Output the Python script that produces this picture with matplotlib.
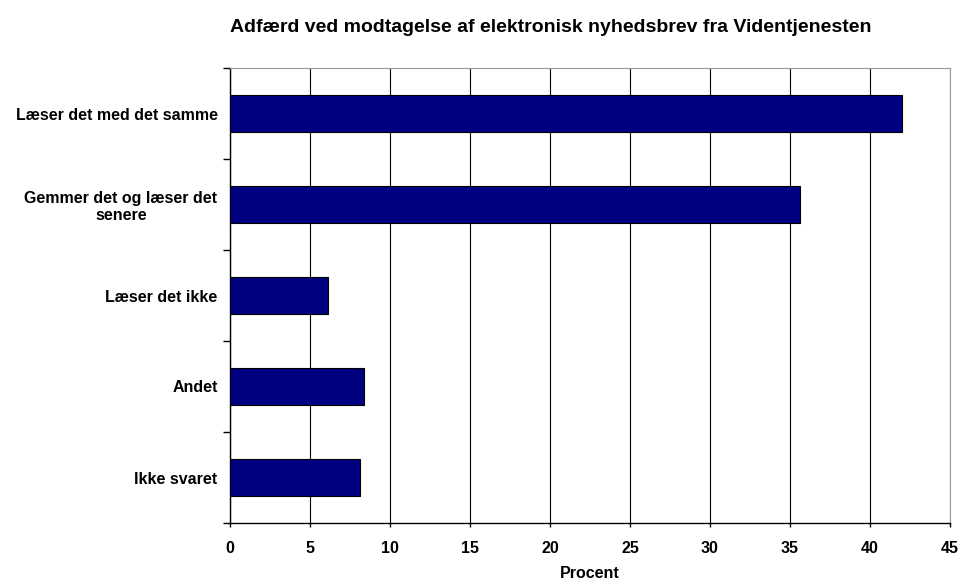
import matplotlib.pyplot as plt

# Data
kategorier = ['Læser det med det samme', 'Gemmer det og læser det\nsenere',
              'Læser det ikke', 'Andet', 'Ikke svaret']
procent = [42.0, 35.6, 6.1, 8.4, 8.1]
x_ticks = [0, 5, 10, 15, 20, 25, 30, 35, 40, 45]

plt.rcParams['font.family'] = ['Liberation Sans', 'DejaVu Sans']

fig = plt.figure(figsize=(9.6, 5.81), dpi=100)
ax = fig.add_axes([230 / 960, 1 - 523 / 581, 720 / 960, 455 / 581])

pos = list(range(len(kategorier)))
ax.barh(pos, procent, height=0.4, color='#000080', edgecolor='black', linewidth=0.8, zorder=3)

ax.set_xlim(0, 45)
ax.set_ylim(len(kategorier) - 0.5, -0.5)
ax.set_xticks(x_ticks)
ax.set_xticklabels([str(t) for t in x_ticks], fontsize=11.5, fontweight='bold')

# kategorietiketter midt i hvert felt, tick-streger ved grænserne
ax.set_yticks(pos)
ax.set_yticklabels(kategorier, fontsize=11.5, fontweight='bold', ha='right', multialignment='center')
ax.tick_params(axis='y', which='major', length=0, pad=9)
ax.set_yticks([i + 0.5 for i in range(-1, len(kategorier))], minor=True)
ax.tick_params(axis='y', which='minor', length=5, width=1, direction='out', color='black')
ax.tick_params(axis='x', length=3, width=1, direction='out', pad=10)

ax.grid(axis='x', color='black', linewidth=0.8, zorder=0)
ax.set_axisbelow(True)

for side in ['top', 'right']:
    ax.spines[side].set_color('#999999')
for side in ['left', 'bottom']:
    ax.spines[side].set_color('black')
    ax.spines[side].set_linewidth(1.0)

ax.set_xlabel('Procent', fontsize=11.5, fontweight='bold', labelpad=7)

fig.text(551 / 960, 1 - 28 / 581, 'Adfærd ved modtagelse af elektronisk nyhedsbrev fra Videntjenesten',
         ha='center', va='center', fontsize=14, fontweight='bold')

plt.savefig('out.png', dpi=100)
